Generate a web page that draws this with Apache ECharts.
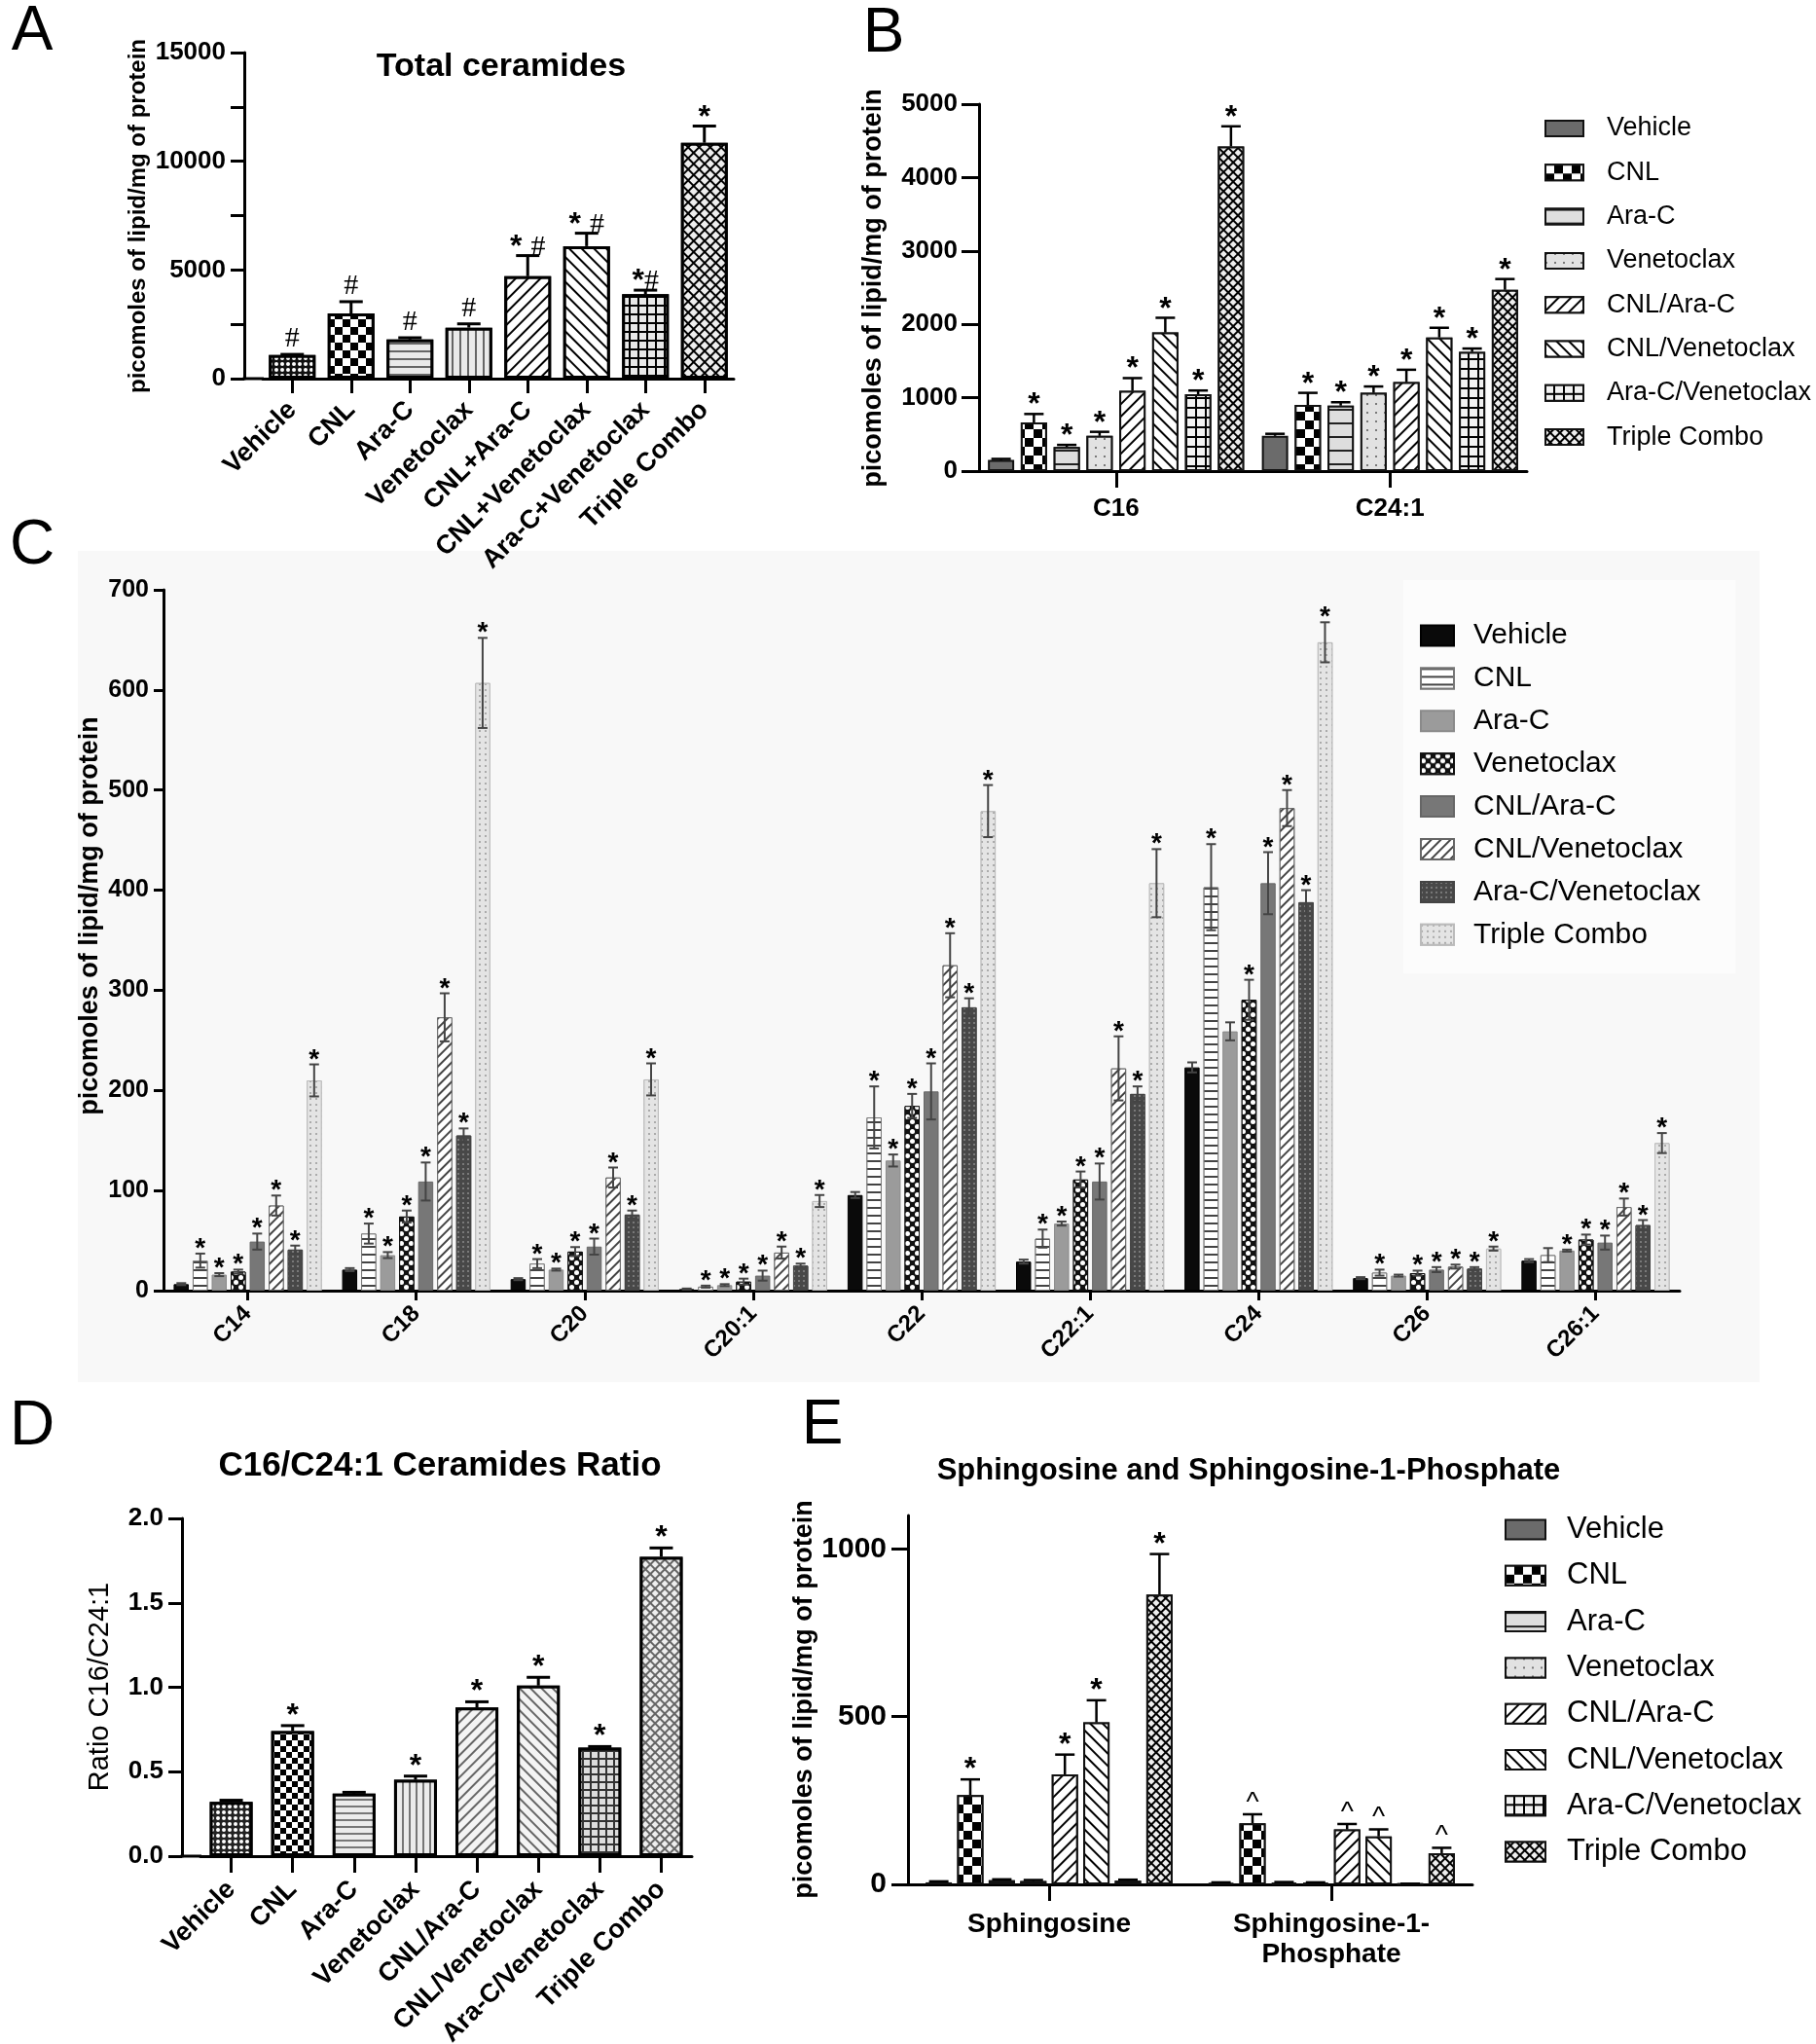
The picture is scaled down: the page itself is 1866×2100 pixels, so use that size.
<!DOCTYPE html>
<html>
<head>
<meta charset="utf-8">
<title>Ceramides panels</title>
<script src="https://cdn.jsdelivr.net/npm/echarts@6/dist/echarts.min.js"></script>
<style>
  html, body { margin: 0; padding: 0; background: #fff; }
  #main { width: 1866px; height: 2100px; }
</style>
</head>
<body>
<div id="main"></div>
<script>
// treatment groups
const groupsA = ['Vehicle', 'CNL', 'Ara-C', 'Venetoclax', 'CNL+Ara-C', 'CNL+Venetoclax', 'Ara-C+Venetoclax', 'Triple Combo'];
const treatments = ['Vehicle', 'CNL', 'Ara-C', 'Venetoclax', 'CNL/Ara-C', 'CNL/Venetoclax', 'Ara-C/Venetoclax', 'Triple Combo'];

// A - total ceramides
const totalMean = [1085, 3000, 1800, 2345, 4710, 6095, 3880, 10850];
const totalErr = [30, 540, 80, 175, 950, 595, 190, 770];
const totalMarks = ['#', '#', '#', '#', '* #', '* #', '*#', '*'];

// B - C16 and C24:1
const bCats = ['C16', 'C24:1'];
const bC16 = [151, 663, 329, 480, 1093, 1889, 1048, 4423];
const bC16Err = [15, 115, 28, 55, 174, 200, 50, 275];
const bC241 = [480, 901, 892, 1066, 1212, 1821, 1624, 2470];
const bC241Err = [28, 165, 46, 87, 169, 132, 46, 147];
const bMarks = ['', '*', '*', '*', '*', '*', '*', '*'];

// C - ceramide species
const cCats = ['C14', 'C18', 'C20', 'C20:1', 'C22', 'C22:1', 'C24', 'C26', 'C26:1'];
const cC14 = [6.5, 30, 16, 19, 49, 85, 41, 210];
const cC14Err = [1, 7, 1.5, 2, 8, 10, 4, 16];
const cC18 = [21, 57, 35.5, 74, 109, 273, 155, 607];
const cC18Err = [1.5, 10, 3, 6, 19, 24, 7, 45];
const cC20 = [11.5, 27, 21, 39, 44, 113, 76, 211];
const cC20Err = [1, 4.5, 1, 4.5, 8, 10, 4, 16];
const cC201 = [1.6, 4, 5.5, 9, 15, 38, 25, 89.5];
const cC201Err = [0.5, 1, 1, 3, 5, 6, 2, 6];
const cC22 = [95.5, 173, 130, 184.5, 199, 325, 283, 479];
const cC22Err = [3, 31, 6, 12, 28, 32, 9, 26];
const cC221 = [29, 52, 67, 111, 109, 222, 196.5, 407];
const cC221Err = [2, 9, 2, 8, 18, 32, 7.5, 34];
const cC24 = [223, 403, 259, 290.5, 407, 482, 388, 647.6];
const cC24Err = [5, 43, 9, 20, 31, 18, 12, 20];
const cC26 = [12.5, 18, 15, 17.5, 21, 24, 22, 42];
const cC26Err = [1, 3, 1, 2.5, 2.5, 2, 1.5, 2];
const cC261 = [30, 35.5, 40, 51, 48, 83.5, 65.5, 147.4];
const cC261Err = [1.5, 7, 1, 5, 7, 8.5, 5, 10];
// treatments with no star, per species
const cUnmarked = [[0], [0], [0], [0], [0], [0], [0, 2], [0, 2], [0, 1]];

// D - ratio
const ratioMean = [0.321, 0.741, 0.370, 0.452, 0.881, 1.010, 0.642, 1.773];
const ratioErr = [0.01, 0.032, 0.008, 0.022, 0.033, 0.049, 0.007, 0.052];
const ratioMarks = ['', '*', '', '*', '*', '*', '*', '*'];

// E - sphingosine / S1P
const eCats = ['Sphingosine', 'Sphingosine-1-\nPhosphate'];
const eSph = [6, 266, 12, 10, 328, 483, 11, 864];
const eSphErr = [3, 47, 3, 3, 59, 66, 3, 121];
const eS1p = [4, 182, 5, 4, 164, 143, 1, 93];
const eS1pErr = [2, 27, 2, 2, 16, 21, 1, 16];
const eSphMarks = ['', '*', '', '', '*', '*', '', '*'];
const eS1pMarks = ['', '^', '', '', '^', '^', '', '^'];

const FF = '"Liberation Sans", Arial, sans-serif';

// decal helpers
function hLines(color, bg, w, gap) {
  return { symbol: 'rect', symbolSize: 1, color: color, backgroundColor: bg, dashArrayX: [1, 0], dashArrayY: [w, gap] };
}
function vLines(color, bg, w, gap) {
  return { symbol: 'rect', symbolSize: 1, color: color, backgroundColor: bg, dashArrayX: [w, gap], dashArrayY: [1, 0] };
}
function diag(color, bg, w, gap, dir) {
  return { symbol: 'rect', symbolSize: 1, color: color, backgroundColor: bg, dashArrayX: [1, 0], dashArrayY: [w, gap], rotation: dir * Math.PI / 4 };
}
function checker(color, bg, s, sym) {
  return { symbol: sym || 'rect', symbolSize: 1, color: color, backgroundColor: bg, dashArrayX: [[s, s], [0, s, s, 0]], dashArrayY: [s, 0] };
}
function cells(lineColor, cellColor, cell, line, rot) {
  return { symbol: 'rect', symbolSize: 1, color: cellColor, backgroundColor: lineColor, dashArrayX: [cell, line], dashArrayY: [cell, line], rotation: rot || 0 };
}
function dots(color, bg, d, gap) {
  return { symbol: 'circle', symbolSize: 1, color: color, backgroundColor: bg, dashArrayX: [d, gap], dashArrayY: [d, gap] };
}

const patA = [
  { color: '#111', decal: dots('#fff', '#111', 4, 2) },
  { color: '#fff', decal: checker('#000', '#fff', 8) },
  { color: '#eaeaea', decal: hLines('#666', '#eaeaea', 2, 6) },
  { color: '#eaeaea', decal: vLines('#666', '#eaeaea', 2, 6) },
  { color: '#fff', decal: diag('#000', '#fff', 2, 7, -1) },
  { color: '#fff', decal: diag('#000', '#fff', 2, 7, 1) },
  { color: '#e8e8e8', decal: cells('#000', '#e8e8e8', 7, 2) },
  { color: '#eee', decal: cells('#000', '#eee', 6, 2, Math.PI / 4) }
];
const patD = [
  { color: '#222', decal: dots('#fff', '#222', 4, 2) },
  { color: '#fff', decal: checker('#000', '#fff', 6) },
  { color: '#ececec', decal: hLines('#777', '#ececec', 2, 5) },
  { color: '#ececec', decal: vLines('#777', '#ececec', 2, 5) },
  { color: '#f4f4f4', decal: diag('#666', '#f4f4f4', 2, 6, -1) },
  { color: '#f4f4f4', decal: diag('#666', '#f4f4f4', 2, 6, 1) },
  { color: '#ddd', decal: cells('#333', '#ddd', 6, 2) },
  { color: '#eee', decal: cells('#666', '#eee', 5, 2, Math.PI / 4) }
];
const patBE = [
  { color: '#6b6b6b' },
  { color: '#fff', decal: checker('#000', '#fff', 9) },
  { color: '#dedede', decal: hLines('#222', '#dedede', 2, 12) },
  { color: '#e2e2e2', decal: dots('#555', '#e2e2e2', 2, 7) },
  { color: '#fff', decal: diag('#000', '#fff', 2, 7, -1) },
  { color: '#fff', decal: diag('#000', '#fff', 2, 7, 1) },
  { color: '#f2f2f2', decal: cells('#000', '#f2f2f2', 8, 2) },
  { color: '#eee', decal: cells('#000', '#eee', 5, 2, Math.PI / 4) }
];
const patC = [
  { color: '#0a0a0a', borderColor: '#000' },
  { color: '#fff', decal: hLines('#444', '#fff', 2, 6), borderColor: '#777' },
  { color: '#9b9b9b', borderColor: '#8a8a8a' },
  { color: '#111', decal: checker('#fff', '#111', 5, 'circle'), borderColor: '#111' },
  { color: '#777', borderColor: '#666' },
  { color: '#fff', decal: diag('#444', '#fff', 2, 5, -1), borderColor: '#666' },
  { color: '#484848', decal: dots('#8a8a8a', '#484848', 2, 3), borderColor: '#444' },
  { color: '#e4e4e4', decal: dots('#999', '#e4e4e4', 2, 4), borderColor: '#bbb' }
];

function richMark(mk) {
  return mk.split('').map(function (ch) {
    if (ch === '*') return '{s|*}';
    if (ch === '#') return '{h|#}';
    if (ch === '^') return '{c|^}';
    return '{s| }';
  }).join('');
}

// error bars plus significance marks, drawn on the bar positions
function errorSeries(cfg) {
  const rows = [];
  const marks = [];
  cfg.means.forEach(function (row, c) {
    row.forEach(function (m, g) {
      const e = cfg.errs[c][g];
      rows.push([c, m, cfg.both ? e : 0, e, g]);
      marks.push(cfg.marks[c][g] || '');
    });
  });
  const n = cfg.means[0].length;
  const rich = {
    s: { fontSize: cfg.fs, fontWeight: 'bold', fontFamily: FF, fill: '#000' },
    h: { fontSize: cfg.fs - 2, fontFamily: '"Liberation Serif", serif', fill: '#000' },
    c: { fontSize: cfg.fs - 4, fontFamily: FF, fill: '#000' }
  };
  return {
    type: 'custom',
    xAxisIndex: cfg.axis,
    yAxisIndex: cfg.axis,
    z: 10,
    silent: true,
    encode: { x: 0, y: 1 },
    data: rows,
    renderItem: function (params, api) {
      const c = api.value(0), m = api.value(1), lo = api.value(2), hi = api.value(3), g = api.value(4);
      const base = api.coord([c, m]);
      const x = base[0] + (g - (n - 1) / 2) * cfg.step;
      const yTop = api.coord([c, m + hi])[1];
      const yBot = lo > 0 ? api.coord([c, m - lo])[1] : base[1];
      const st = { stroke: cfg.color, lineWidth: cfg.lw };
      const kids = [
        { type: 'line', shape: { x1: x, y1: yBot, x2: x, y2: yTop }, style: st },
        { type: 'line', shape: { x1: x - cfg.cap, y1: yTop, x2: x + cfg.cap, y2: yTop }, style: st }
      ];
      if (lo > 0) {
        kids.push({ type: 'line', shape: { x1: x - cfg.cap, y1: yBot, x2: x + cfg.cap, y2: yBot }, style: st });
      }
      const mk = marks[params.dataIndex];
      if (mk) {
        const adj = mk[0] === '*' ? 0.225 * cfg.fs : (mk[0] === '^' ? 0.15 * cfg.fs : 0);
        kids.push({
          type: 'text', x: x, y: yTop - cfg.gap + adj,
          style: { text: richMark(mk), rich: rich, align: 'center', verticalAlign: 'middle', fill: '#000' }
        });
      }
      return { type: 'group', children: kids };
    }
  };
}

function plainNum(v) { return String(v); }

function valueAxis(grid, max, interval, opt) {
  return Object.assign({
    type: 'value', gridIndex: grid, min: 0, max: max, interval: interval,
    axisLine: { show: true, lineStyle: { color: '#000', width: 3 } },
    axisTick: { show: true, length: opt.tick, lineStyle: { color: '#000', width: 3 } },
    axisLabel: { color: '#000', fontSize: opt.fs, fontWeight: 'bold', fontFamily: FF, margin: opt.margin, formatter: opt.fmt || plainNum },
    splitLine: { show: false }
  }, opt.extra || {});
}

function catAxis(grid, data, opt) {
  return {
    type: 'category', gridIndex: grid, data: data,
    axisLine: { show: true, onZero: false, lineStyle: { color: '#000', width: 3 } },
    axisTick: { show: true, alignWithLabel: true, interval: 0, length: opt.tick, lineStyle: { color: '#000', width: 3 } },
    axisLabel: {
      color: '#000', fontSize: opt.fs, fontWeight: 'bold', fontFamily: FF, margin: opt.margin,
      rotate: opt.rotate || 0, interval: 0, lineHeight: opt.lh || opt.fs + 4
    }
  };
}

function makeLegend(prefix, o) {
  return {
    orient: 'vertical', left: o.left, top: o.top, padding: o.padding || 0,
    backgroundColor: o.bg || 'transparent',
    itemWidth: o.iw, itemHeight: o.ih, itemGap: o.gap, icon: 'rect',
    selectedMode: false,
    data: treatments.map(function (t) { return prefix + '|' + t; }),
    formatter: function (name) { return name.split('|')[1]; },
    textStyle: { color: '#000', fontSize: o.fs, fontFamily: FF, lineHeight: o.lh, padding: [0, 0, 0, o.tpad] }
  };
}

const series = [];

// A
series.push({
  type: 'bar', name: 'A', xAxisIndex: 0, yAxisIndex: 0, barWidth: 48,
  itemStyle: { borderColor: '#000', borderWidth: 3 },
  data: totalMean.map(function (v, i) { return { value: v, itemStyle: patA[i] }; })
});
series.push(errorSeries({
  axis: 0, means: totalMean.map(function (v) { return [v]; }), errs: totalErr.map(function (v) { return [v]; }),
  marks: totalMarks.map(function (v) { return [v]; }), both: false, step: 0, cap: 12, lw: 3, color: '#000', fs: 32, gap: 16
}));

// B
treatments.forEach(function (t, i) {
  series.push({
    type: 'bar', name: 'B|' + t, xAxisIndex: 1, yAxisIndex: 1, barWidth: 27, barGap: '25%',
    itemStyle: Object.assign({ borderColor: '#111', borderWidth: 2 }, patBE[i]),
    data: [bC16[i], bC241[i]]
  });
});
series.push(errorSeries({
  axis: 1, means: [bC16, bC241], errs: [bC16Err, bC241Err], marks: [bMarks, bMarks],
  both: false, step: 33.75, cap: 10, lw: 2.5, color: '#000', fs: 32, gap: 16
}));

// C
const cMeans = [cC14, cC18, cC20, cC201, cC22, cC221, cC24, cC26, cC261];
const cErrs = [cC14Err, cC18Err, cC20Err, cC201Err, cC22Err, cC221Err, cC24Err, cC26Err, cC261Err];
const cMarks = cUnmarked.map(function (skip) {
  return treatments.map(function (t, i) { return skip.indexOf(i) >= 0 ? '' : '*'; });
});
treatments.forEach(function (t, i) {
  series.push({
    type: 'bar', name: 'C|' + t, xAxisIndex: 2, yAxisIndex: 2, barWidth: 15.5, barGap: '26%',
    itemStyle: Object.assign({ borderWidth: 1 }, patC[i]),
    data: cMeans.map(function (row) { return row[i]; })
  });
});
series.push(errorSeries({
  axis: 2, means: cMeans, errs: cErrs, marks: cMarks,
  both: true, step: 19.5, cap: 5, lw: 2, color: '#444', fs: 28, gap: 11
}));

// D
series.push({
  type: 'bar', name: 'D', xAxisIndex: 3, yAxisIndex: 3, barWidth: 44,
  itemStyle: { borderColor: '#000', borderWidth: 3 },
  data: ratioMean.map(function (v, i) { return { value: v, itemStyle: patD[i] }; })
});
series.push(errorSeries({
  axis: 3, means: ratioMean.map(function (v) { return [v]; }), errs: ratioErr.map(function (v) { return [v]; }),
  marks: ratioMarks.map(function (v) { return [v]; }), both: false, step: 0, cap: 12, lw: 3, color: '#000', fs: 32, gap: 17
}));

// E
treatments.forEach(function (t, i) {
  series.push({
    type: 'bar', name: 'E|' + t, xAxisIndex: 4, yAxisIndex: 4, barWidth: 27, barGap: '20%',
    itemStyle: Object.assign({ borderColor: '#111', borderWidth: 2 }, patBE[i]),
    data: [eSph[i], eS1p[i]]
  });
});
series.push(errorSeries({
  axis: 4, means: [eSph, eS1p], errs: [eSphErr, eS1pErr], marks: [eSphMarks, eS1pMarks],
  both: false, step: 32.4, cap: 10, lw: 2.5, color: '#000', fs: 32, gap: 17
}));

function txt(s, x, y, font, rot) {
  return {
    type: 'text', x: x, y: y, rotation: rot || 0,
    style: { text: s, font: font, fill: '#000', align: 'center', verticalAlign: 'middle', textAlign: 'center', textVerticalAlign: 'middle' }
  };
}
const letterFont = 'normal 64px ' + FF;

const option = {
  animation: false,
  backgroundColor: '#fff',
  grid: [
    { left: 270, top: 54, width: 484, height: 335, outerBoundsMode: 'none' },
    { left: 1006, top: 107, width: 563, height: 377, outerBoundsMode: 'none' },
    { left: 168, top: 606, width: 1558, height: 720, outerBoundsMode: 'none' },
    { left: 206, top: 1560, width: 505, height: 347, outerBoundsMode: 'none' },
    { left: 933, top: 1557, width: 580, height: 379, outerBoundsMode: 'none' }
  ],
  xAxis: [
    catAxis(0, groupsA, { tick: 15, fs: 27, margin: 28, rotate: 45 }),
    catAxis(1, bCats, { tick: 17, fs: 26, margin: 24 }),
    catAxis(2, cCats, { tick: 10, fs: 24, margin: 20, rotate: 45 }),
    catAxis(3, treatments, { tick: 17, fs: 27, margin: 30, rotate: 45 }),
    catAxis(4, eCats, { tick: 17, fs: 28, margin: 26, lh: 31 })
  ],
  yAxis: [
    valueAxis(0, 15000, 5000, { tick: 14, fs: 26, margin: 19, extra: {
      offset: 19, minorTick: { show: true, splitNumber: 2, length: 14, lineStyle: { color: '#000', width: 3 } } } }),
    valueAxis(1, 5000, 1000, { tick: 18, fs: 26, margin: 22 }),
    valueAxis(2, 700, 100, { tick: 10, fs: 25, margin: 15 }),
    valueAxis(3, 2, 0.5, { tick: 14, fs: 26, margin: 19, fmt: function (v) { return v.toFixed(1); }, extra: { offset: 19 } }),
    valueAxis(4, 1100, 500, { tick: 17, fs: 30, margin: 22, fmt: function (v) { return v % 500 === 0 ? String(v) : ''; } })
  ],
  legend: [
    makeLegend('B', { left: 1587, top: 117, iw: 39, ih: 16, gap: 15.3, fs: 27, lh: 30, tpad: 19 }),
    makeLegend('C', { left: 1442, top: 596, padding: [41, 36, 24, 17], bg: '#fcfcfc', iw: 34, ih: 21, gap: 11.9, fs: 30, lh: 32, tpad: 15 }),
    makeLegend('E', { left: 1546, top: 1555, iw: 41, ih: 20, gap: 14.3, fs: 31, lh: 33, tpad: 17 })
  ],
  graphic: { elements: [
    { type: 'rect', z: -100, shape: { x: 80, y: 566, width: 1728, height: 854 }, style: { fill: '#f8f8f8' } },
    { type: 'line', shape: { x1: 249.5, y1: 389, x2: 271, y2: 389 }, style: { stroke: '#000', lineWidth: 3 } },
    { type: 'line', shape: { x1: 185.5, y1: 1907, x2: 207, y2: 1907 }, style: { stroke: '#000', lineWidth: 3 } },
    txt('A', 33, 33, letterFont),
    txt('B', 908, 35, letterFont),
    txt('C', 33, 561, letterFont),
    txt('D', 33, 1466, letterFont),
    txt('E', 845, 1465, letterFont),
    txt('Total ceramides', 515, 69, 'bold 34px ' + FF),
    txt('C16/C24:1 Ceramides Ratio', 452, 1506, 'bold 35px ' + FF),
    txt('Sphingosine and Sphingosine-1-Phosphate', 1283, 1511, 'bold 31px ' + FF),
    txt('picomoles of lipid/mg of protein', 142, 222, 'bold 24px ' + FF, Math.PI / 2),
    txt('picomoles of lipid/mg of protein', 898, 296, 'bold 27px ' + FF, Math.PI / 2),
    txt('picomoles of lipid/mg of protein', 93, 941, 'bold 27px ' + FF, Math.PI / 2),
    txt('Ratio C16/C24:1', 103, 1733, 'normal 29px ' + FF, Math.PI / 2),
    txt('picomoles of lipid/mg of protein', 827, 1746, 'bold 27px ' + FF, Math.PI / 2)
  ] },
  series: series
};

// E axis: ticks and labels only at 0/500/1000
option.yAxis[4].axisLabel.customValues = [0, 500, 1000];
option.yAxis[4].axisTick.customValues = [0, 500, 1000];

const chart = echarts.init(document.getElementById('main'));
chart.setOption(option);
</script>
</body>
</html>
